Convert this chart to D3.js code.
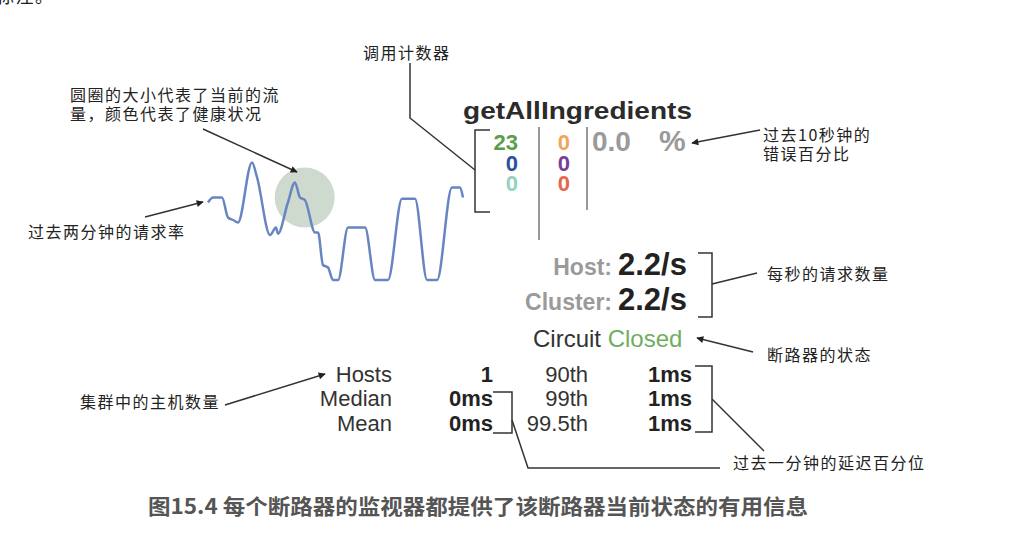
<!DOCTYPE html>
<html>
<head>
<meta charset="utf-8">
<title>Hystrix circuit monitor</title>
<script src="https://d3js.org/d3.v7.min.js"></script>
<style>
  body { margin: 0; background: #fff; }
  text { font-family: "Liberation Sans", Arial, sans-serif; }
  .cn { font-family: "Noto Sans CJK SC", sans-serif; font-size: 16px; letter-spacing: 1.5px; fill: #222; }
</style>
</head>
<body>
<script>
// request rate over the last two minutes (seconds, requests/s)
var rateTimes = [0, 2.4, 6.6, 9.4, 11.8, 14.1, 20.7, 23.1, 29.2, 32.0, 32.9, 37.6, 40.9, 43.3, 45.6,
                 50.4, 51.8, 54.1, 56.5, 58.8, 61.2, 65.9, 73.9, 78.6, 84.7, 91.3, 97.4, 103.1, 107.8,
                 114.8, 118.6, 120];
var rateValues = [3.1, 3.3, 3.3, 2.5, 2.4, 2.3, 4.7, 4.1, 1.8, 2.1, 1.85, 3.1, 3.9, 3.3, 3.2,
                  1.9, 1.9, 0.6, 0.5, 0, 0, 2.1, 2.1, 0, 0, 3.25, 3.25, 0, 0,
                  3.7, 3.7, 3.3];

var commandName = "getAllIngredients";
var counterCol1 = [23, 0, 0];
var counterCol1Colors = ["#5a9e4b", "#2c4f9e", "#93d3bd"];
var counterCol2 = [0, 0, 0];
var counterCol2Colors = ["#f0a65a", "#7a3d98", "#e8654b"];
var errorPct = 0.0;
var hostRate = 2.2;
var clusterRate = 2.2;
var circuitState = "Closed";
var latencyLeftLabels = ["Hosts", "Median", "Mean"];
var latencyLeftValues = ["1", "0ms", "0ms"];
var latencyRightLabels = ["90th", "99th", "99.5th"];
var latencyRightValues = ["1ms", "1ms", "1ms"];

var W = 1009, H = 544;
var svg = d3.select("body").append("svg").attr("width", W).attr("height", H);

svg.append("defs").append("marker")
  .attr("id", "arr").attr("viewBox", "0 0 10 10").attr("refX", 9).attr("refY", 5)
  .attr("markerWidth", 8).attr("markerHeight", 7).attr("markerUnits", "userSpaceOnUse")
  .attr("orient", "auto")
  .append("path").attr("d", "M0,0 L10,5 L0,10 z").attr("fill", "#222");

// cut-off text from previous page
svg.append("text").attr("class", "cn").attr("x", -4).attr("y", 3)
  .style("font-size", "18px").text("标注。");

// sparkline
var x = d3.scaleLinear().domain([0, 120]).range([208, 463]);
var y = d3.scaleLinear().domain([0, 4.8]).range([280, 160]);

svg.append("circle")
  .attr("cx", x(45.5)).attr("cy", y(3.3)).attr("r", 30)
  .attr("fill", "#cfdacf");

var line = d3.line().x(function(d) { return x(d[0]); }).y(function(d) { return y(d[1]); })
  .curve(d3.curveMonotoneX);
svg.append("path")
  .datum(d3.zip(rateTimes, rateValues))
  .attr("d", line)
  .attr("fill", "none").attr("stroke", "#6885c3").attr("stroke-width", 2.5)
  .attr("stroke-linejoin", "round");

// title
svg.append("text").attr("x", 463).attr("y", 118.5)
  .attr("font-size", 24).attr("font-weight", "bold").attr("fill", "#2b2b2b")
  .attr("textLength", 229).attr("lengthAdjust", "spacingAndGlyphs")
  .text(commandName);

// counters
var rowY = [150, 170.5, 191];
svg.selectAll(".c1").data(counterCol1).enter().append("text")
  .attr("x", 518).attr("y", function(d, i) { return rowY[i]; })
  .attr("text-anchor", "end").attr("font-size", 22).attr("font-weight", "bold")
  .attr("fill", function(d, i) { return counterCol1Colors[i]; })
  .text(function(d) { return d; });
svg.selectAll(".c2").data(counterCol2).enter().append("text")
  .attr("x", 570).attr("y", function(d, i) { return rowY[i]; })
  .attr("text-anchor", "end").attr("font-size", 22).attr("font-weight", "bold")
  .attr("fill", function(d, i) { return counterCol2Colors[i]; })
  .text(function(d) { return d; });

var pct = svg.append("text").attr("y", 151).attr("font-size", 28).attr("font-weight", "bold").attr("fill", "#9a9a9a");
pct.append("tspan").attr("x", 592).text(errorPct.toFixed(1));
pct.append("tspan").attr("x", 659).attr("font-size", 30).text("%");

svg.append("line").attr("x1", 539).attr("x2", 539).attr("y1", 127).attr("y2", 240)
  .attr("stroke", "#777").attr("stroke-width", 1.5);
svg.append("line").attr("x1", 587).attr("x2", 587).attr("y1", 127).attr("y2", 210)
  .attr("stroke", "#777").attr("stroke-width", 1.5);

// rates
svg.append("text").attr("x", 612).attr("y", 275).attr("text-anchor", "end")
  .attr("font-size", 23).attr("font-weight", "bold").attr("fill", "#9a9a9a").text("Host:");
svg.append("text").attr("x", 612).attr("y", 310).attr("text-anchor", "end")
  .attr("font-size", 23).attr("font-weight", "bold").attr("fill", "#9a9a9a").text("Cluster:");
svg.append("text").attr("x", 618).attr("y", 275)
  .attr("font-size", 31).attr("font-weight", "bold").attr("fill", "#222").text(hostRate.toFixed(1) + "/s");
svg.append("text").attr("x", 618).attr("y", 310)
  .attr("font-size", 31).attr("font-weight", "bold").attr("fill", "#222").text(clusterRate.toFixed(1) + "/s");

// circuit
var circ = svg.append("text").attr("x", 533).attr("y", 347).attr("font-size", 24);
circ.append("tspan").attr("fill", "#333").text("Circuit ");
circ.append("tspan").attr("fill", "#6fae5f").text(circuitState);

// latency
var latY = [382, 406, 431];
svg.selectAll(".ll").data(latencyLeftLabels).enter().append("text")
  .attr("x", 392).attr("y", function(d, i) { return latY[i]; })
  .attr("text-anchor", "end").attr("font-size", 22).attr("fill", "#333")
  .text(function(d) { return d; });
svg.selectAll(".lv").data(latencyLeftValues).enter().append("text")
  .attr("x", 493).attr("y", function(d, i) { return latY[i]; })
  .attr("text-anchor", "end").attr("font-size", 22).attr("font-weight", "bold").attr("fill", "#222")
  .text(function(d) { return d; });
svg.selectAll(".rl").data(latencyRightLabels).enter().append("text")
  .attr("x", 588).attr("y", function(d, i) { return latY[i]; })
  .attr("text-anchor", "end").attr("font-size", 22).attr("fill", "#333")
  .text(function(d) { return d; });
svg.selectAll(".rv").data(latencyRightValues).enter().append("text")
  .attr("x", 692).attr("y", function(d, i) { return latY[i]; })
  .attr("text-anchor", "end").attr("font-size", 22).attr("font-weight", "bold").attr("fill", "#222")
  .text(function(d) { return d; });

// brackets and leader lines
function path(d, marker) {
  var p = svg.append("path").attr("d", d).attr("fill", "none")
    .attr("stroke", "#333").attr("stroke-width", 1.5);
  if (marker) p.attr("marker-end", "url(#arr)");
  return p;
}
path("M490,130 H475 V212 H490");
path("M410,63 V118 L475,170");
path("M698,253 H712 V317 H698");
path("M712,284 L757,273");
path("M695,366 H712 V432 H695");
path("M712,399 L764,451");
path("M493,392 H512 V433 H493");
path("M512,420 L528,468 H720");

path("M203,129 L297,172", true);
path("M145,217 L203,202", true);
path("M225,405 L325,374", true);
path("M760,130 L692,143", true);
path("M753,352 L697,338", true);

// annotations
function note(xp, yp, s) {
  svg.append("text").attr("class", "cn").attr("x", xp).attr("y", yp).text(s);
}
note(363, 59, "调用计数器");
note(70, 101, "圆圈的大小代表了当前的流");
note(70, 120, "量，颜色代表了健康状况");
note(28, 238, "过去两分钟的请求率");
note(80, 408, "集群中的主机数量");
note(763, 141, "过去10秒钟的");
note(763, 160, "错误百分比");
note(767, 280, "每秒的请求数量");
note(767, 361, "断路器的状态");
note(733, 469, "过去一分钟的延迟百分位");

// caption
svg.append("text").attr("x", 148).attr("y", 514)
  .style("font-family", "'Noto Sans CJK SC', sans-serif")
  .attr("font-size", 21).attr("font-weight", "bold").attr("fill", "#555")
  .attr("textLength", 660).attr("lengthAdjust", "spacingAndGlyphs")
  .text("图15.4 每个断路器的监视器都提供了该断路器当前状态的有用信息");
</script>
</body>
</html>
